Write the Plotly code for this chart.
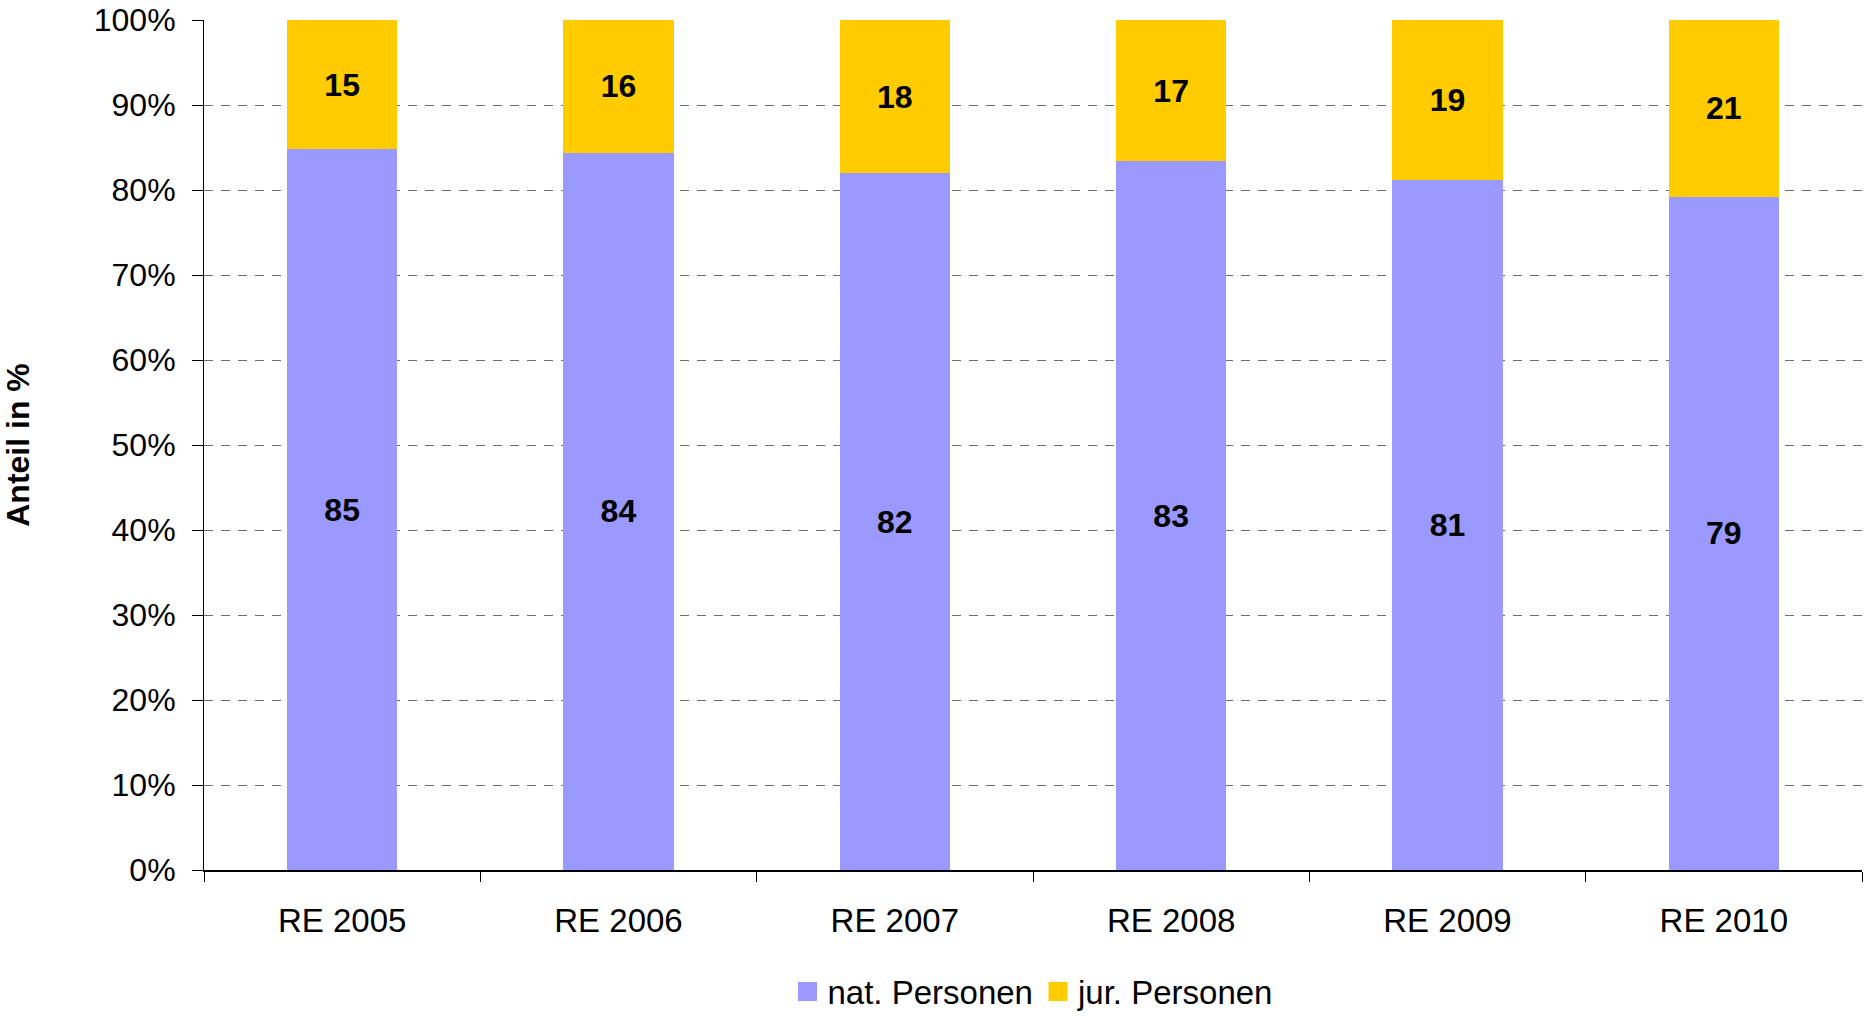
import plotly.graph_objects as go

categories = ["RE 2005", "RE 2006", "RE 2007", "RE 2008", "RE 2009", "RE 2010"]
nat_personen = [84.8, 84.4, 82.0, 83.4, 81.2, 79.2]
jur_personen = [15.2, 15.6, 18.0, 16.6, 18.8, 20.8]
y_ticks = [0, 10, 20, 30, 40, 50, 60, 70, 80, 90, 100]
y_tick_labels = [f"{v}%" for v in y_ticks]

NAT_COLOR = "#9999FF"
JUR_COLOR = "#FFCC00"
FONT = "Liberation Sans, Arial, sans-serif"

fig = go.Figure()
fig.add_trace(go.Bar(
    x=categories, y=nat_personen, name="nat. Personen",
    marker=dict(color=NAT_COLOR, line=dict(width=0)),
    texttemplate="<b>%{y:.0f}</b>", textposition="inside",
    insidetextanchor="middle", textangle=0, constraintext="none",
    textfont=dict(family=FONT, size=32, color="black"),
    showlegend=False, width=0.4,
))
fig.add_trace(go.Bar(
    x=categories, y=jur_personen, name="jur. Personen",
    marker=dict(color=JUR_COLOR, line=dict(width=0)),
    texttemplate="<b>%{y:.0f}</b>", textposition="inside",
    insidetextanchor="middle", textangle=0, constraintext="none",
    textfont=dict(family=FONT, size=32, color="black"),
    showlegend=False, width=0.4,
))
# legend entries
for nm, col in [("nat. Personen", NAT_COLOR), ("jur. Personen", JUR_COLOR)]:
    fig.add_trace(go.Scatter(
        x=[None], y=[None], mode="markers", name=nm,
        marker=dict(symbol="square", size=16, color=col,
                    line=dict(width=3, color=col)),
    ))

fig.update_layout(
    barmode="stack",
    width=1865, height=1017,
    margin=dict(l=204, r=3, t=20, b=147, autoexpand=False),
    paper_bgcolor="white", plot_bgcolor="white",
    font=dict(family=FONT, size=30, color="black"),
    legend=dict(
        orientation="h", x=0.5, y=0.025, xanchor="center", yanchor="middle",
        yref="container",
        font=dict(size=33), itemsizing="trace", tracegroupgap=0,
        traceorder="normal",
    ),
    xaxis=dict(
        showline=True, linecolor="black", linewidth=2,
        ticks="outside", ticklen=10, tickcolor="black", tickwidth=1,
        tickson="boundaries", showgrid=False,
        tickfont=dict(size=33), ticklabelstandoff=20,
        range=[-0.5, 5.5], automargin=False,
    ),
    yaxis=dict(
        range=[0, 100], tickvals=y_ticks, ticktext=y_tick_labels,
        showline=True, linecolor="black", linewidth=1,
        ticks="outside", ticklen=11, tickcolor="black", tickwidth=1,
        showgrid=True, gridcolor="#6e6e6e", gridwidth=1, griddash="9px,8px",
        tickfont=dict(size=32), ticklabelstandoff=10,
        title=dict(text="<b>Anteil in %</b>", font=dict(size=32), standoff=56),
        zeroline=False, automargin=False,
    ),
)

fig.write_html("out.html")
